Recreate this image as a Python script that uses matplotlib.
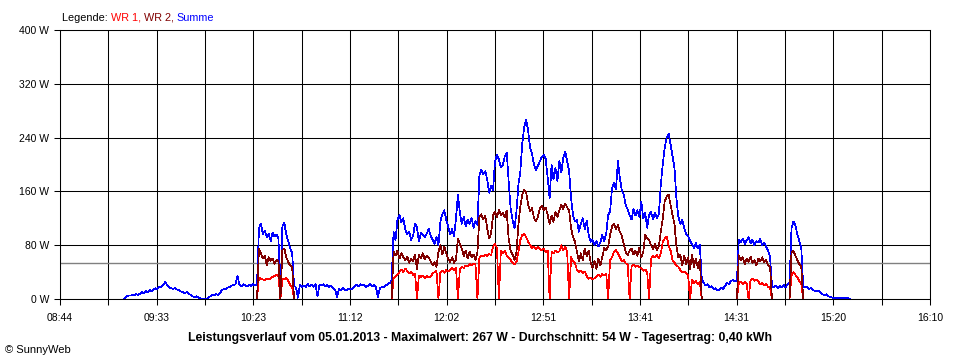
import numpy as np
import matplotlib
matplotlib.use("Agg")
import matplotlib.pyplot as plt

plt.rcParams['font.family'] = ['Liberation Sans', 'DejaVu Sans']


def mins(hhmm):
    h, m = hhmm.split(':')
    return int(h) * 60 + int(m)


# one reading per minute, starting 09:17
start = "09:17"
summe = [
    0, 4, 5, 5, 6, 5, 7, 6, 8, 10, 9, 12, 10, 13, 12, 14, 16, 15, 18,
    18, 21, 26, 20, 17, 16, 15, 16, 14, 13, 11, 10, 9, 10, 8, 6, 4, 3, 4, 2,
    1, 0, 1, 0, 2, 4, 6, 5, 7, 6, 9, 13, 15, 14, 17, 18, 20, 21, 22, 34,
    21, 19, 22, 20, 19, 21, 19, 22, 20, 22,
    105, 112, 96, 102, 92, 97, 86, 99, 93, 96, 90, 0, 108, 113, 96, 86, 76, 68,
    20, 17, 2, 21, 18,
    20, 18, 22, 19, 21, 18, 22, 4, 21, 20, 22, 19, 21, 18, 20, 16, 14, 3, 15, 13,
    16, 14, 13, 15, 14, 16, 18, 21, 19, 22, 20, 21, 18, 20, 22, 19, 21, 17, 3, 16,
    18, 17, 20, 22, 24, 27,
    100, 88, 118, 125, 114, 120, 104, 96, 100, 88, 94, 112, 106, 86, 98, 95, 92, 97,
    104, 94, 88, 82, 92, 80, 115, 126, 132, 118, 108, 96, 104, 93, 120, 155, 128,
    112, 122, 108, 118, 112, 120, 106, 116, 110, 184, 192, 186, 190, 178, 158, 168,
    162, 205, 214, 208, 196, 199, 212, 218, 175, 135, 118, 105, 130, 170, 190, 232,
    256, 267, 250, 225, 215, 200, 192, 198, 205, 211, 214, 208, 180, 150, 200, 178,
    195, 175, 205, 188, 210, 219, 205, 190, 150, 125, 115, 118, 100, 112, 120, 104,
    116, 96, 85, 88, 80, 86, 78, 84, 95, 86, 97, 125, 130, 165, 172, 163, 205, 180,
    162, 155, 140, 133, 125, 118, 134, 124, 132, 122, 145, 120, 128, 106, 125, 130,
    118, 128, 120, 126, 170, 200, 225, 240, 246, 230, 212, 195, 150, 122, 112, 118,
    106, 96, 94, 86, 82, 76, 83, 75, 80, 30,
    24, 20, 22, 17, 19, 15, 16, 13, 14, 17, 15, 20, 24, 22, 27, 28, 26, 27,
    88, 84, 90, 82, 87, 92, 83, 88, 80, 86, 84, 89, 80, 84, 78, 72, 62,
    20, 17, 20, 16, 19, 18, 21, 17, 22, 25,
    105, 115, 110, 96, 86, 76,
    18, 17, 18, 15, 16, 13, 12, 11, 12, 9, 7, 6, 7, 4, 3, 2, 1, 1, 2, 1, 1, 1, 1, 1, 0,
]

# inverter readings only exist in some stretches
wr1_parts = [
    ("10:25", [0, 32, 30, 29, 28, 30, 29, 31, 33, 34, 36, 33, 0, 30, 29, 31, 27, 21, 18, 0]),
    ("11:34", [0, 30, 33, 36, 40, 44, 40, 45, 42, 38, 40, 36, 38, 0, 35, 33, 35, 31, 34, 32,
               33, 38, 40, 42, 0, 40, 42, 39, 43, 41, 44, 46, 43, 47, 0, 45, 48, 46, 50, 49,
               52, 50, 53, 51, 0, 62, 65, 63, 66, 64, 67, 65, 78, 82, 76, 0, 72, 68, 72, 65,
               62, 58, 54, 52, 55, 70, 88, 95, 97, 92, 85, 80, 76, 78, 74, 77, 74, 72, 75, 70,
               72, 0, 70, 68, 72, 69, 71, 80, 72, 78, 70, 0, 62, 56, 54, 43, 40, 42, 38, 41,
               34, 30, 32, 29, 31, 34, 36, 33, 37, 35, 38, 0, 58, 62, 70, 73, 68, 62, 56, 58,
               53, 52, 0, 49, 51, 48, 50, 47, 46, 42, 44, 40, 0, 60, 64, 62, 66, 60, 68, 85,
               90, 93, 80, 72, 58, 54, 50, 48, 43, 40, 41, 38, 35, 0, 28, 24, 27, 22, 25, 0]),
    ("14:31", [0, 24, 26, 22, 25, 23, 0, 28, 30, 27, 29, 26, 22, 24, 20, 22, 18, 17, 0]),
    ("14:58", [0, 35, 40, 36, 32, 27, 23, 0]),
]
wr2_parts = [
    ("10:25", [0, 75, 68, 60, 64, 50, 62, 57, 60, 52, 58, 56, 0, 73, 75, 62, 55, 50, 48, 0]),
    ("11:34", [0, 70, 65, 72, 60, 68, 62, 58, 63, 54, 60, 56, 66, 45, 66, 60, 68, 59, 64, 62,
               56, 50, 55, 48, 70, 80, 66, 78, 68, 60, 55, 62, 54, 58, 90, 82, 75, 64, 72, 60,
               70, 62, 66, 58, 70, 122, 126, 118, 124, 105, 90, 98, 124, 130, 122, 132, 125,
               128, 122, 131, 90, 72, 66, 58, 70, 110, 138, 155, 162, 158, 140, 130, 135, 120,
               116, 122, 135, 138, 132, 136, 125, 112, 124, 115, 130, 122, 132, 140, 134, 142,
               136, 132, 105, 92, 85, 70, 56, 68, 58, 75, 64, 72, 55, 46, 56, 45, 60, 50, 62,
               76, 73, 78, 95, 108, 112, 104, 110, 100, 94, 82, 70, 65, 72, 75, 66, 72, 64, 76,
               62, 70, 95, 90, 88, 80, 74, 82, 73, 78, 100, 120, 145, 152, 155, 140, 125, 112,
               78, 62, 66, 50, 64, 52, 62, 45, 66, 48, 60, 46, 58, 0]),
    ("14:31", [0, 65, 58, 62, 52, 60, 55, 63, 54, 58, 50, 60, 56, 62, 55, 58, 50, 48, 0]),
    ("14:58", [0, 70, 72, 64, 58, 52, 48, 0]),
]

x_labels = ["08:44", "09:33", "10:23", "11:12", "12:02", "12:51", "13:41", "14:31", "15:20", "16:10"]
y_ticks = [0, 80, 160, 240, 320, 400]
average = 54
title = ("Leistungsverlauf vom 05.01.2013 - Maximalwert: 267 W - Durchschnitt: 54 W"
         " - Tagesertrag: 0,40 kWh")

t0 = mins(start)
t = t0 + np.arange(len(summe))


def expand(parts):
    arr = np.full(len(summe), np.nan)
    for s, vals in parts:
        i = mins(s) - t0
        arr[i:i + len(vals)] = vals
    return arr


wr1 = expand(wr1_parts)
wr2 = expand(wr2_parts)

fig = plt.figure(figsize=(9.6, 3.6), dpi=100)
ax = fig.add_axes([60 / 960, 61 / 360, 870 / 960, 269 / 360])

x0, x1 = mins(x_labels[0]), mins(x_labels[-1])
ax.set_xlim(x0, x1)
ax.set_ylim(0, 400)
ax.set_axisbelow(True)

xt = np.linspace(x0, x1, 2 * len(x_labels) - 1)
ax.set_xticks(xt)
ax.set_xticklabels([x_labels[i // 2] if i % 2 == 0 else '' for i in range(len(xt))])
ax.set_yticks(y_ticks)
ax.set_yticklabels([f"{v} W" for v in y_ticks])
ax.grid(True, color='black', lw=0.75)
ax.tick_params(axis='x', length=4, width=0.75, pad=6, labelsize=7.5)
ax.tick_params(axis='y', length=4, width=0.75, pad=4, labelsize=7.5)
for sp in ax.spines.values():
    sp.set_color('black')
    sp.set_linewidth(0.75)

ax.axhline(average, color='#808080', lw=1.0, zorder=1.5)
ax.plot(t, wr1, color='#ff0000', lw=0.5, antialiased=False, zorder=3)
ax.plot(t, wr2, color='#800000', lw=0.5, antialiased=False, zorder=3)
ax.plot(t, summe, color='#0000ff', lw=0.5, antialiased=False, zorder=2)

fig.text(0.5, 19 / 360, title, ha='center', va='baseline', fontsize=8.8, fontweight='bold')
fig.text(5 / 960, 7 / 360, "\u00a9 SunnyWeb", ha='left', va='baseline', fontsize=8)

# legend as coloured words in a row
fig.canvas.draw()
r = fig.canvas.get_renderer()
lx = 62 / 960
for s, c in [("Legende: ", 'black'), ("WR 1, ", '#ff0000'), ("WR 2, ", '#800000'), ("Summe", '#0000ff')]:
    txt = fig.text(lx, 1 - 21 / 360, s, color=c, fontsize=7.8, va='baseline')
    lx += txt.get_window_extent(r).width / 960

fig.savefig('out.png', dpi=100)
